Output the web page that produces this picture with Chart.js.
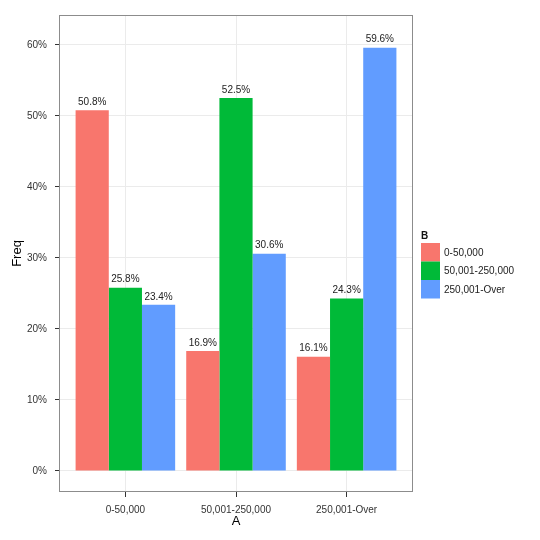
<!DOCTYPE html>
<html>
<head>
<meta charset="utf-8">
<script src="https://cdn.jsdelivr.net/npm/chart.js@4"></script>
<style>
  html, body { margin: 0; padding: 0; background: #fff; }
  #wrap { width: 540px; height: 540px; }
</style>
</head>
<body>
<div id="wrap"><canvas id="myChart" width="540" height="540"></canvas></div>
<script>
// categories on the x axis (A) and the fill groups (B)
const categories = ['0-50,000', '50,001-250,000', '250,001-Over'];
const groups = ['0-50,000', '50,001-250,000', '250,001-Over'];

// Freq (%) per group, one value per category
const freqLow = [50.8, 16.9, 16.1];
const freqMid = [25.8, 52.5, 24.3];
const freqHigh = [23.4, 30.6, 59.6];

const yTicks = [0, 10, 20, 30, 40, 50, 60];
const colors = ['#F8766D', '#00BA38', '#619CFF'];

const FONT = "'Liberation Sans', Arial, sans-serif";

// panel border drawn round the whole chart area (theme_bw look)
const panelBorder = {
    id: 'panelBorder',
    afterDraw(chart) {
        const a = chart.chartArea;
        const ctx = chart.ctx;
        ctx.save();
        ctx.strokeStyle = '#8c8c8c';
        ctx.lineWidth = 1;
        ctx.strokeRect(a.left + 0.5, a.top + 0.5, a.right - a.left - 1, a.bottom - a.top - 1);
        ctx.restore();
    }
};

// value labels above each bar
const barLabels = {
    id: 'barLabels',
    afterDatasetsDraw(chart) {
        const ctx = chart.ctx;
        ctx.save();
        ctx.font = '10px ' + FONT;
        ctx.fillStyle = '#222';
        ctx.textAlign = 'center';
        ctx.textBaseline = 'bottom';
        chart.data.datasets.forEach(function(ds, i) {
            chart.getDatasetMeta(i).data.forEach(function(bar, j) {
                ctx.fillText(ds.data[j].y.toFixed(1) + '%', bar.x, bar.y - 3);
            });
        });
        ctx.restore();
    }
};

// ggplot style legend on the right
const sideLegend = {
    id: 'sideLegend',
    afterDraw(chart) {
        const ctx = chart.ctx;
        const x = 421, top = 243, size = 18.5;
        ctx.save();
        ctx.fillStyle = '#111';
        ctx.font = 'bold 10px ' + FONT;
        ctx.textBaseline = 'alphabetic';
        ctx.textAlign = 'left';
        ctx.fillText('B', x, 238.5);
        ctx.font = '10px ' + FONT;
        ctx.textBaseline = 'middle';
        chart.data.datasets.forEach(function(ds, i) {
            const y = top + i * size;
            ctx.fillStyle = ds.backgroundColor;
            ctx.fillRect(x, y, 19, size);
            ctx.fillStyle = '#222';
            ctx.fillText(ds.label, x + 23, y + size / 2 + 0.5);
        });
        ctx.restore();
    }
};

function points(values) {
    return values.map(function(v, i) { return { x: i, y: v }; });
}

const series = [freqLow, freqMid, freqHigh];

const ctx = document.getElementById('myChart').getContext('2d');
const myChart = new Chart(ctx, {
    type: 'bar',
    data: {
        datasets: series.map(function(values, i) {
            return {
                label: groups[i],
                data: points(values),
                backgroundColor: colors[i],
                borderWidth: 0,
                categoryPercentage: 0.9,
                barPercentage: 1.0
            };
        })
    },
    plugins: [panelBorder, barLabels, sideLegend],
    options: {
        responsive: false,
        animation: false,
        layout: {
            padding: { left: 0, right: 127, top: 15, bottom: 0 }
        },
        plugins: {
            legend: { display: false },
            tooltip: { enabled: false }
        },
        scales: {
            x: {
                type: 'linear',
                offset: false,
                min: -0.6,
                max: 2.6,
                afterBuildTicks: function(scale) {
                    scale.ticks = categories.map(function(c, i) { return { value: i }; });
                },
                afterFit: function(scale) { scale.height = 48; },
                grid: {
                    offset: false,
                    color: '#ebebeb',
                    tickColor: '#333',
                    tickLength: 5,
                    drawOnChartArea: true
                },
                border: { display: false },
                ticks: {
                    autoSkip: false,
                    maxRotation: 0,
                    padding: 7,
                    color: '#333',
                    font: { family: FONT, size: 10 },
                    callback: function(value) { return categories[value]; }
                },
                title: {
                    display: true,
                    text: 'A',
                    color: '#000',
                    font: { family: FONT, size: 13 },
                    padding: { top: 0, bottom: 11 }
                }
            },
            y: {
                min: -2.96,
                max: 64.2,
                afterBuildTicks: function(scale) {
                    scale.ticks = yTicks.map(function(v) { return { value: v }; });
                },
                afterFit: function(scale) { scale.width = 59; },
                grid: {
                    color: '#ebebeb',
                    tickColor: '#333',
                    tickLength: 4
                },
                border: { display: false },
                ticks: {
                    padding: 8,
                    color: '#333',
                    font: { family: FONT, size: 10 },
                    callback: function(value) { return value + '%'; }
                },
                title: {
                    display: true,
                    text: 'Freq',
                    color: '#000',
                    font: { family: FONT, size: 13 },
                    padding: { top: 10, bottom: 0 }
                }
            }
        }
    }
});
</script>
</body>
</html>
